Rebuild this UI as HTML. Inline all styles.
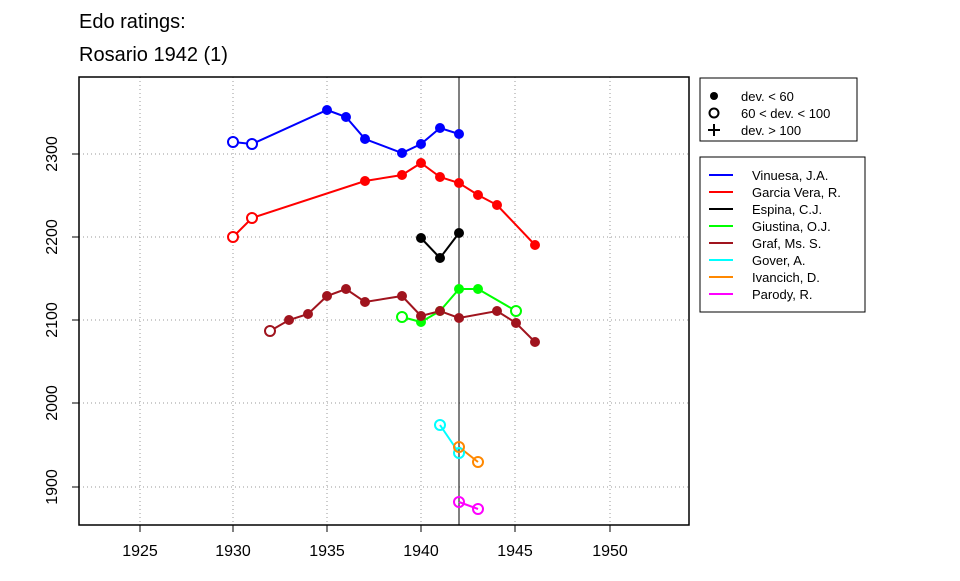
<!DOCTYPE html>
<html><head><meta charset="utf-8"><style>body{margin:0;background:#fff}</style></head><body>
<svg width="960" height="576" xmlns="http://www.w3.org/2000/svg" font-family="Liberation Sans, sans-serif">
<rect width="960" height="576" fill="#fff"/>
<text x="79" y="28" font-size="20">Edo ratings:</text>
<text x="79" y="61" font-size="20">Rosario 1942 (1)</text>
<g stroke="#999" stroke-dasharray="1,3" stroke-width="1">
<line x1="140" y1="77" x2="140" y2="525"/><line x1="233" y1="77" x2="233" y2="525"/><line x1="327" y1="77" x2="327" y2="525"/><line x1="421" y1="77" x2="421" y2="525"/><line x1="515" y1="77" x2="515" y2="525"/><line x1="610" y1="77" x2="610" y2="525"/>
<line x1="79" y1="154" x2="689" y2="154"/><line x1="79" y1="237" x2="689" y2="237"/><line x1="79" y1="320" x2="689" y2="320"/><line x1="79" y1="403" x2="689" y2="403"/><line x1="79" y1="487" x2="689" y2="487"/>
</g>
<line x1="459" y1="77" x2="459" y2="525" stroke="#000" stroke-width="1"/>
<rect x="79" y="77" width="610" height="448" fill="none" stroke="#000" stroke-width="1.5"/>
<g stroke="#000"><line x1="140" y1="525" x2="140" y2="532"/><line x1="233" y1="525" x2="233" y2="532"/><line x1="327" y1="525" x2="327" y2="532"/><line x1="421" y1="525" x2="421" y2="532"/><line x1="515" y1="525" x2="515" y2="532"/><line x1="610" y1="525" x2="610" y2="532"/>
<line x1="72" y1="154" x2="79" y2="154"/><line x1="72" y1="237" x2="79" y2="237"/><line x1="72" y1="320" x2="79" y2="320"/><line x1="72" y1="403" x2="79" y2="403"/><line x1="72" y1="487" x2="79" y2="487"/></g>
<g font-size="16" text-anchor="middle"><text x="140" y="556">1925</text><text x="233" y="556">1930</text><text x="327" y="556">1935</text><text x="421" y="556">1940</text><text x="515" y="556">1945</text><text x="610" y="556">1950</text></g>
<g font-size="16" text-anchor="middle"><text transform="translate(57,154) rotate(-90)">2300</text><text transform="translate(57,237) rotate(-90)">2200</text><text transform="translate(57,320) rotate(-90)">2100</text><text transform="translate(57,403) rotate(-90)">2000</text><text transform="translate(57,487) rotate(-90)">1900</text></g>
<g fill="none" stroke-width="2">
<polyline stroke="#00f" points="233,142 252,144 327,110 346,117 365,139 402,153 421,144 440,128 459,134"/>
<polyline stroke="#f00" points="233,237 252,218 365,181 402,175 421,163 440,177 459,183 478,195 497,205 535,245"/>
<polyline stroke="#000" points="421,238 440,258 459,233"/>
<polyline stroke="#0f0" points="402,317 421,322 440,311 459,289 478,289 516,311"/>
<polyline stroke="#a0141e" points="270,331 289,320 308,314 327,296 346,289 365,302 402,296 421,316 440,311 459,318 497,311 516,323 535,342"/>
<polyline stroke="#0ff" points="440,425 459,453"/>
<polyline stroke="#f80" points="459,447 478,462"/>
<polyline stroke="#f0f" points="459,502 478,509"/>
</g>
<g stroke-width="2">
<g fill="#fff" stroke="#00f"><circle cx="233" cy="142" r="5"/><circle cx="252" cy="144" r="5"/></g>
<g fill="#00f" stroke="#00f"><circle cx="327" cy="110" r="4"/><circle cx="346" cy="117" r="4"/><circle cx="365" cy="139" r="4"/><circle cx="402" cy="153" r="4"/><circle cx="421" cy="144" r="4"/><circle cx="440" cy="128" r="4"/><circle cx="459" cy="134" r="4"/></g>
<g fill="#fff" stroke="#f00"><circle cx="233" cy="237" r="5"/><circle cx="252" cy="218" r="5"/></g>
<g fill="#f00" stroke="#f00"><circle cx="365" cy="181" r="4"/><circle cx="402" cy="175" r="4"/><circle cx="421" cy="163" r="4"/><circle cx="440" cy="177" r="4"/><circle cx="459" cy="183" r="4"/><circle cx="478" cy="195" r="4"/><circle cx="497" cy="205" r="4"/><circle cx="535" cy="245" r="4"/></g>
<g fill="#000" stroke="#000"><circle cx="421" cy="238" r="4"/><circle cx="440" cy="258" r="4"/><circle cx="459" cy="233" r="4"/></g>
<g fill="#fff" stroke="#0f0"><circle cx="402" cy="317" r="5"/><circle cx="516" cy="311" r="5"/></g>
<g fill="#0f0" stroke="#0f0"><circle cx="421" cy="322" r="4"/><circle cx="440" cy="311" r="4"/><circle cx="459" cy="289" r="4"/><circle cx="478" cy="289" r="4"/></g>
<circle cx="270" cy="331" r="5" fill="#fff" stroke="#a0141e"/>
<g fill="#a0141e" stroke="#a0141e"><circle cx="289" cy="320" r="4"/><circle cx="308" cy="314" r="4"/><circle cx="327" cy="296" r="4"/><circle cx="346" cy="289" r="4"/><circle cx="365" cy="302" r="4"/><circle cx="402" cy="296" r="4"/><circle cx="421" cy="316" r="4"/><circle cx="440" cy="311" r="4"/><circle cx="459" cy="318" r="4"/><circle cx="497" cy="311" r="4"/><circle cx="516" cy="323" r="4"/><circle cx="535" cy="342" r="4"/></g>
<g fill="none" stroke="#0ff"><circle cx="440" cy="425" r="5"/><circle cx="459" cy="453" r="5"/></g>
<g fill="none" stroke="#f80"><circle cx="459" cy="447" r="5"/><circle cx="478" cy="462" r="5"/></g>
<g fill="none" stroke="#f0f"><circle cx="459" cy="502" r="5"/><circle cx="478" cy="509" r="5"/></g>
</g>
<rect x="700" y="78" width="157" height="63" fill="#fff" stroke="#000"/>
<circle cx="714" cy="96" r="4" fill="#000"/><circle cx="714" cy="113" r="4.5" fill="none" stroke="#000" stroke-width="2"/>
<path d="M708 130h12M714 124v12" stroke="#000" stroke-width="2"/>
<g font-size="13"><text x="741" y="101">dev. &lt; 60</text><text x="741" y="118">60 &lt; dev. &lt; 100</text><text x="741" y="135">dev. &gt; 100</text></g>
<rect x="700" y="157" width="165" height="155" fill="#fff" stroke="#000"/>
<g stroke-width="2">
<line x1="709" y1="175" x2="733" y2="175" stroke="#00f"/><line x1="709" y1="192" x2="733" y2="192" stroke="#f00"/><line x1="709" y1="209" x2="733" y2="209" stroke="#000"/><line x1="709" y1="226" x2="733" y2="226" stroke="#0f0"/><line x1="709" y1="243" x2="733" y2="243" stroke="#a0141e"/><line x1="709" y1="260" x2="733" y2="260" stroke="#0ff"/><line x1="709" y1="277" x2="733" y2="277" stroke="#f80"/><line x1="709" y1="294" x2="733" y2="294" stroke="#f0f"/></g>
<g font-size="13"><text x="752" y="180">Vinuesa, J.A.</text><text x="752" y="197">Garcia Vera, R.</text><text x="752" y="214">Espina, C.J.</text><text x="752" y="231">Giustina, O.J.</text><text x="752" y="248">Graf, Ms. S.</text><text x="752" y="265">Gover, A.</text><text x="752" y="282">Ivancich, D.</text><text x="752" y="299">Parody, R.</text></g>
</svg>
</body></html>
